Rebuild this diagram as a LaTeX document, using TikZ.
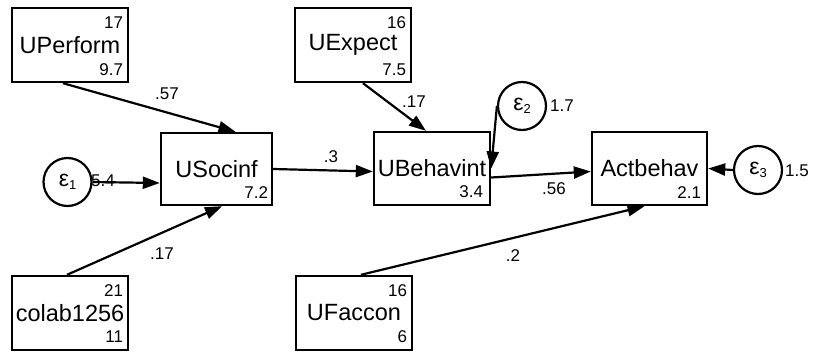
\documentclass[tikz,border=0pt]{standalone}
\usepackage{fontspec}
\setmainfont{Liberation Sans}
\usetikzlibrary{arrows.meta,calc}

\begin{document}
\begin{tikzpicture}[x=1pt,y=-1pt,
  var/.style={draw, line width=2.4pt, minimum width=116pt, minimum height=74pt,
    inner sep=0pt, font=\fontsize{23.5}{23.5}\selectfont},
  err/.style={draw, circle, line width=2.2pt, minimum size=48pt, inner sep=0pt,
    font=\fontsize{23}{23}\selectfont},
  num/.style={inner sep=0pt, font=\fontsize{17}{17}\selectfont},
  coef/.style={inner sep=0pt, font=\fontsize{17}{17}\selectfont},
  path/.style={line width=2.2pt, -{Triangle[length=17pt,width=12pt]}},
]
\useasboundingbox (0,0) rectangle (814,351);

% observed variables
\node[var] (up) at (70,45) {UPerform};
\node[var] (ue) at (353,45) {UExpect};
\node[var] (cl) at (70,313) {colab1256};
\node[var] (uf) at (354,313) {UFaccon};
\node[var, minimum width=111pt, minimum height=72pt] (us) at (216.5,169) {USocinf};
\node[var, minimum height=73pt] (ub) at (432,168.5) {UBehavint};
\node[var, minimum width=115pt, minimum height=73pt] (ab) at (649.5,168.5) {Actbehav};

% means and intercepts inside the boxes
\node[num, anchor=north east] (up-m) at ($(up.north east)+(-6,10)$) {17};
\node[num, anchor=base east]  (up-v) at ($(up.south east)+(-6,-8)$) {9.7};
\node[num, anchor=north east] (ue-m) at ($(ue.north east)+(-6,10)$) {16};
\node[num, anchor=base east]  (ue-v) at ($(ue.south east)+(-6,-8)$) {7.5};
\node[num, anchor=north east] (cl-m) at ($(cl.north east)+(-6,10)$) {21};
\node[num, anchor=base east]  (cl-v) at ($(cl.south east)+(-6,-9)$) {11};
\node[num, anchor=north east] (uf-m) at ($(uf.north east)+(-6,10)$) {16};
\node[num, anchor=base east]  (uf-v) at ($(uf.south east)+(-6,-9)$) {6};
\node[num, anchor=base east]  (us-c) at ($(us.south east)+(-5,-8)$) {7.2};
\node[num, anchor=base east]  (ub-c) at ($(ub.south east)+(-8,-9)$) {3.4};
\node[num, anchor=base east]  (ab-c) at ($(ab.south east)+(-7,-8)$) {2.1};

% error terms
\node[err] (e1) at (67.5,182) {ε\raisebox{-3pt}{\fontsize{13}{13}\selectfont 1}};
\node[err] (e2) at (522,106) {ε\raisebox{-3pt}{\fontsize{13}{13}\selectfont 2}};
\node[err] (e3) at (758,170) {ε\raisebox{-3pt}{\fontsize{13}{13}\selectfont 3}};

% paths
\draw[path] ($(up.south)+(-7,0)$) -- ($(us.north)+(19,0)$);
\draw[path] ($(cl.north)+(-3,0)$) -- ($(us.south)+(5.5,0)$);
\draw[path] (e1.east) -- ($(us.west)+(0,14)$);
\draw[path] (us.east) -- ($(ub.west)+(0,3)$);
\draw[path] ($(ue.south)+(10,0)$) -- ($(ub.north)+(-6,0)$);
\draw[path] (e2.west) -- (ub.east);
\draw[path] ($(ub.east)+(0,9)$) -- ($(ab.west)+(0,3)$);
\draw[path] ($(uf.north)+(7,0)$) -- ($(ab.south)+(-5,0)$);
\draw[path] (e3.west) -- (ab.east);

% coefficients and variances
\node[coef] (c-up) at (167,94) {.57};
\node[coef] (c-cl) at (162,254) {.17};
\node[coef] (c-e1) at (103,181) {5.4};
\node[coef] (c-us) at (331,157) {.3};
\node[coef] (c-ue) at (414,102) {.17};
\node[coef] (c-e2) at (562,106) {1.7};
\node[coef] (c-ub) at (554,189) {.56};
\node[coef] (c-uf) at (513,256) {.2};
\node[coef] (c-e3) at (797,171) {1.5};
\end{tikzpicture}
\end{document}
